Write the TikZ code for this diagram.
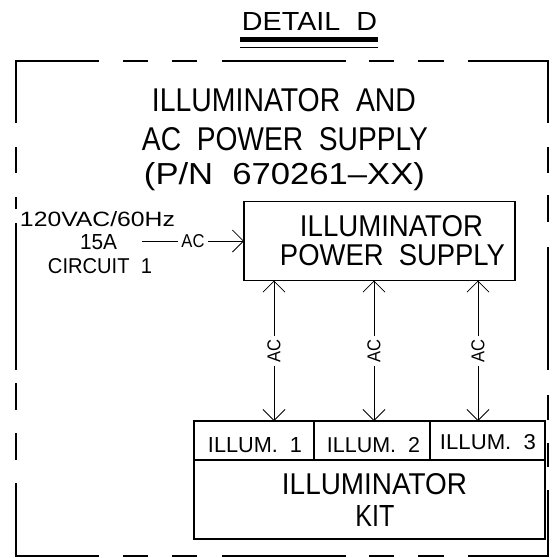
\documentclass[tikz,border=0pt]{standalone}
\usepackage{fontspec}
\setmainfont{Liberation Sans}
\usetikzlibrary{arrows.meta}
\newcommand\cadt[3]{\resizebox{#1pt}{#2pt}{#3}}
\begin{document}
\begin{tikzpicture}[x=1pt,y=-1pt,
  border/.style={line width=2.4pt, line cap=butt},
  boxst/.style={draw, line width=1.8pt, inner sep=0pt, outer sep=0pt},
  txt/.style={inner sep=0pt, outer sep=0pt, anchor=base},
  barb/.tip={Straight Barb[length=11pt,width=22pt,line width=0.8pt]},
  arr/.style={line width=0.8pt, barb-barb},
  arrone/.style={line width=0.8pt, -barb},
  lbl/.style={fill=white, inner sep=3.5pt}
]
\useasboundingbox (0,0) rectangle (556,558);

% title
\node[txt] (detail) at (309.5,30) {\cadt{135}{18}{DETAIL\ \ D}};
\fill (240,37) rectangle (378,42);
\draw[line width=1.2pt] (240,47.5) -- (378,47.5);

% dashed outline
\draw[border] (16,123) -- (16,61) -- (99,61);
\draw[border] (123,61) -- (148,61) (172,61) -- (197,61) (222,61) -- (346,61)
  (369,61) -- (394,61) (418,61) -- (444,61);
\draw[border] (468,61) -- (548,61) -- (548,123);
\draw[border] (548,147) -- (548,173) (548,195) -- (548,222) (548,247) -- (548,370)
  (548,395) -- (548,420) (548,443) -- (548,467);
\draw[border] (548,490) -- (548,556) -- (468,556);
\draw[border] (444,556) -- (418,556) (394,556) -- (369,556) (346,556) -- (222,556)
  (197,556) -- (172,556) (148,556) -- (123,556);
\draw[border] (99,556) -- (16,556) -- (16,483);
\draw[border] (16,460) -- (16,433) (16,410) -- (16,383) (16,370) -- (16,223)
  (16,209) -- (16,197) (16,173) -- (16,147);

% heading
\node[txt] (h1) at (284,111) {\cadt{264}{23}{ILLUMINATOR\ \ AND}};
\node[txt] (h2) at (285,150) {\cadt{286}{23}{AC\ \ POWER\ \ SUPPLY}};
\node[txt] (h3) at (284.5,184) {\cadt{281}{22}{(P/N\ \ 670261--XX)}};

% power supply
\node[boxst, minimum width=271pt, minimum height=79pt] (psu) at (379.5,241) {};
\node[txt] (psu1) at (391.5,236) {\cadt{183}{21}{ILLUMINATOR}};
\node[txt] (psu2) at (392.5,265) {\cadt{225}{21}{POWER\ \ SUPPLY}};

% source text
\node[txt] (s1) at (97.5,226) {\cadt{155}{15}{120VAC/60Hz}};
\node[txt] (s2) at (98.5,249) {\cadt{37}{15}{15A}};
\node[txt] (s3) at (100,273) {\cadt{104}{15}{CIRCUIT\ \ 1}};
\coordinate (src) at (142,241);
\draw[arrone] (src) -- node[lbl] (acin) {\cadt{23}{13}{AC}} (psu.west);

% illuminator kit
\node[boxst, minimum width=120pt, minimum height=39pt] (ill1) at (254,440.5) {};
\node[boxst, minimum width=116pt, minimum height=39pt] (ill2) at (372,440.5) {};
\node[boxst, minimum width=115pt, minimum height=39pt] (ill3) at (487.5,440.5) {};
\node[boxst, minimum width=351pt, minimum height=79pt] (kit) at (369.5,499.5) {};
\node[txt] (l1) at (255,452) {\cadt{94}{15}{ILLUM.\ \ 1}};
\node[txt] (l2) at (373.5,452) {\cadt{93}{15}{ILLUM.\ \ 2}};
\node[txt] (l3) at (488,449) {\cadt{96}{15}{ILLUM.\ \ 3}};
\node[txt] (k1) at (374.5,494) {\cadt{185}{21}{ILLUMINATOR}};
\node[txt] (k2) at (375,526) {\cadt{39}{21}{KIT}};

% vertical AC links
\coordinate (c1) at (274,350);
\coordinate (c2) at (374,350);
\coordinate (c3) at (478,350);
\draw[arr] (psu.south -| c1) -- node[lbl, rotate=90] (ac1) {\cadt{23}{13}{AC}} (ill1.north -| c1);
\draw[arr] (psu.south -| c2) -- node[lbl, rotate=90] (ac2) {\cadt{23}{13}{AC}} (ill2.north -| c2);
\draw[arr] (psu.south -| c3) -- node[lbl, rotate=90] (ac3) {\cadt{23}{13}{AC}} (ill3.north -| c3);
\end{tikzpicture}
\end{document}
